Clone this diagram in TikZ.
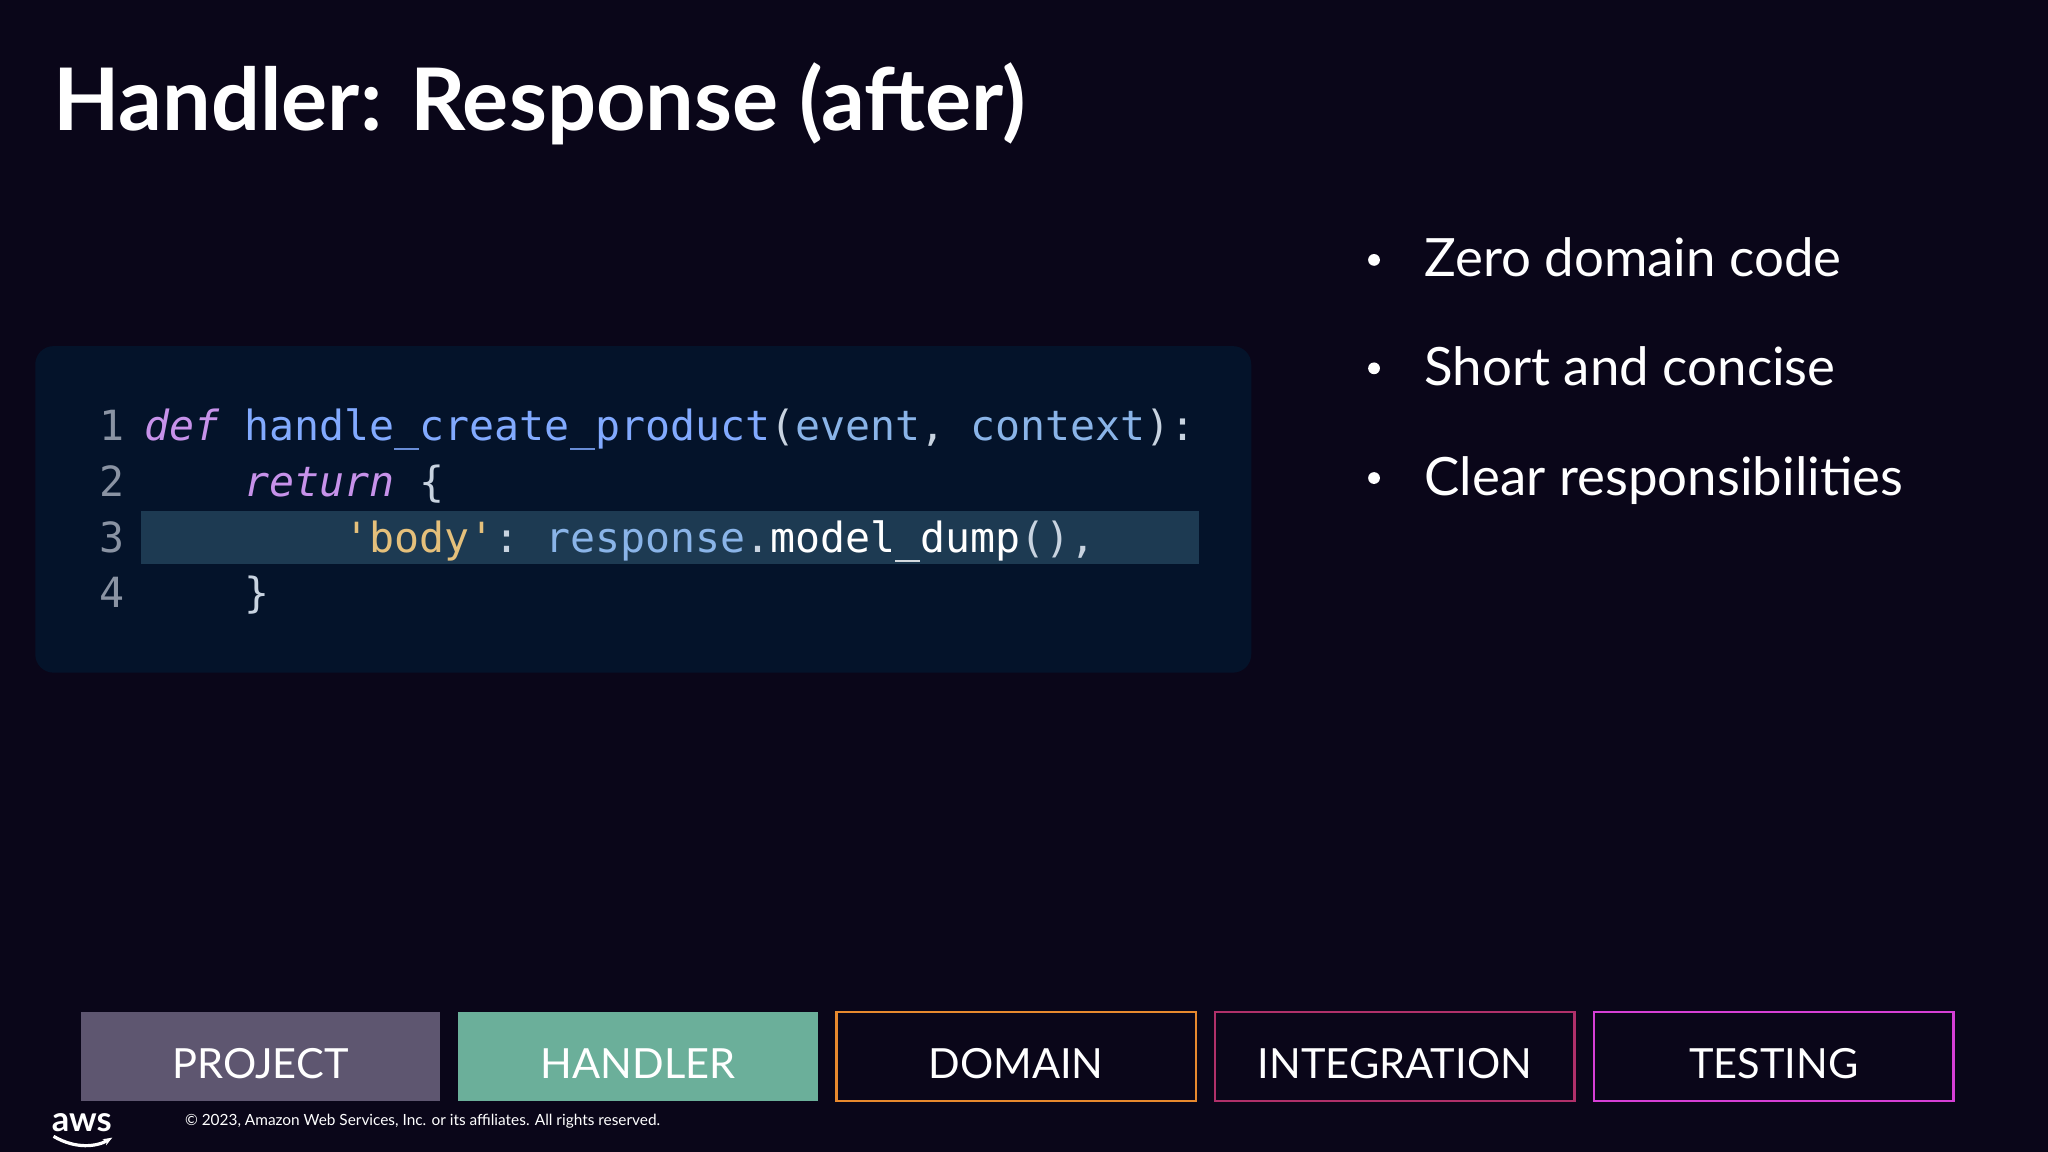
\documentclass[tikz,border=0pt]{standalone}
\usepackage{fontspec}
\usetikzlibrary{arrows.meta}
\setmainfont{Lato}
\newfontfamily\codef{DejaVu Sans Mono}
\definecolor{bg}{HTML}{0A0619}
\definecolor{codebg}{HTML}{04132A}
\definecolor{hl}{HTML}{1D3A52}
\definecolor{kw}{HTML}{C792EA}
\definecolor{fn}{HTML}{82AAFF}
\definecolor{par}{HTML}{8AB4E8}
\definecolor{pun}{HTML}{C8D3E0}
\definecolor{str}{HTML}{E5C07B}
\definecolor{lnum}{HTML}{8A93A3}
\definecolor{proj}{HTML}{5E5670}
\definecolor{hand}{HTML}{6BAF9A}
\definecolor{dom}{HTML}{E8892E}
\definecolor{integ}{HTML}{B0306A}
\definecolor{test}{HTML}{D63FD6}
\tikzset{
 codeline/.style={anchor=base west,inner sep=0pt,font=\codef\fontsize{9.05}{11}\selectfont,text=pun},
 lnumst/.style={anchor=base,inner sep=0pt,font=\codef\fontsize{9.05}{11}\selectfont,text=lnum},
 bullet/.style={anchor=base west,inner sep=0pt,text=white,font=\fontsize{11.5}{14}\selectfont},
 tab/.style={minimum width=2.75cm,minimum height=0.68cm,inner sep=0pt,text=white,font=\fontsize{9.05}{11}\selectfont,line width=0.5pt},
 tablabel/.style={anchor=base,inner sep=0pt,text=white,font=\fontsize{9.05}{11}\selectfont}
}
\begin{document}
\begin{tikzpicture}[x=0.01cm,y=-0.01cm]
\fill[bg] (0,0) rectangle (1568,882);
\node[anchor=base west,inner sep=0pt,text=white,font=\bfseries\fontsize{18.8}{24}\selectfont] (title) at (40,100) {Handler: Response (after)};
\fill[codebg,rounded corners=4pt] (27,265) rectangle (958,515);
\fill[hl] (108,391) rectangle (918,432);
\node[lnumst] (n1) at (86,337) {1};
\node[lnumst] (n2) at (86,380) {2};
\node[lnumst] (n3) at (86,423) {3};
\node[lnumst] (n4) at (86,465) {4};
\node[codeline] (l1) at (110,337) {\textcolor{kw}{\itshape def}\ \textcolor{fn}{handle\_create\_product}(\textcolor{par}{event}, \textcolor{par}{context}):};
\node[codeline] (l2) at (110,380) {\ \ \ \ \textcolor{kw}{\itshape return}\ \{};
\node[codeline] (l3) at (110,423) {\ \ \ \ \ \ \ \ \textcolor{str}{'body'}:\ \textcolor{par}{response}.\textcolor{white}{model\_dump}(),};
\node[codeline] (l4) at (110,465) {\ \ \ \ \}};
\foreach \y/\t [count=\i] in {212/Zero domain code,295/Short and concise,379/Clear responsibilities}{
 \node[circle,fill=white,inner sep=0pt,minimum size=0.09cm] (d\i) at (1052,\y-13) {};
 \node[bullet] (b\i) at (1090,\y) {\t};
}
\node[tab,fill=proj] (t1) at (199.5,809) {};
\node[tab,fill=hand] (t2) at (488.5,809) {};
\node[tab,draw=dom] (t3) at (778,809) {};
\node[tab,draw=integ] (t4) at (1068,809) {};
\node[tab,draw=test] (t5) at (1358,809) {};
\foreach \i/\t in {1/PROJECT,2/HANDLER,3/DOMAIN,4/INTEGRATION,5/TESTING}{
 \node[tablabel] (lab\i) at ([yshift=-0.17cm]t\i.center) {\t};
}
\node[anchor=base west,inner sep=0pt,text=white,font=\bfseries\fontsize{7.5}{8}\selectfont] (aws) at (39,866) {aws};
\draw[white,line width=0.7pt,-{Stealth[length=2pt]}] (41,870) .. controls (58,880) and (74,878) .. (86,871);
\node[anchor=base west,inner sep=0pt,text=white,font=\fontsize{3.35}{4}\selectfont] (copy) at (141,862) {© 2023, Amazon Web Services, Inc. or its affiliates. All rights reserved.};
\end{tikzpicture}
\end{document}
